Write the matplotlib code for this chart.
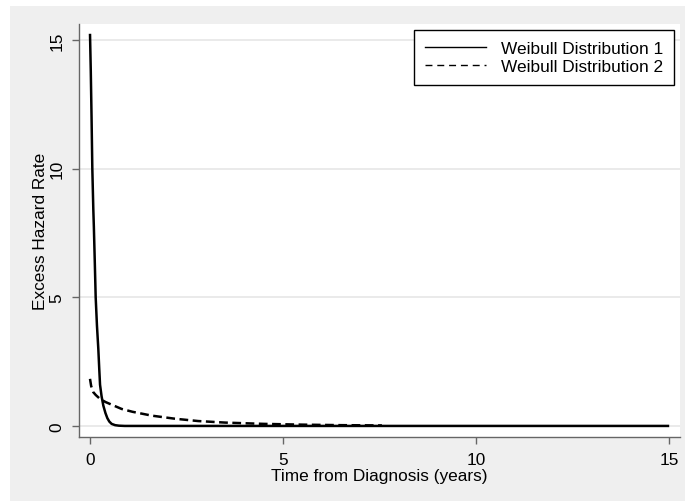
import matplotlib
matplotlib.use("Agg")
import matplotlib.pyplot as plt
from matplotlib.patches import Rectangle
from matplotlib.lines import Line2D

# hazard curves
t1 = [0.0, 0.02, 0.04, 0.06, 0.086, 0.10, 0.125, 0.147, 0.18, 0.215, 0.24, 0.26,
      0.30, 0.345, 0.40, 0.45, 0.50, 0.56, 0.65, 0.75, 0.9, 1.2, 15.0]
h1 = [15.24, 13.8, 12.0, 10.0, 8.4, 7.73, 6.3, 5.0, 3.9, 3.0, 2.2, 1.6,
      1.15, 0.79, 0.5, 0.3, 0.17, 0.08, 0.03, 0.01, 0.0, 0.0, 0.0]

t2 = [0.0, 0.03, 0.086, 0.15, 0.26, 0.4, 0.6, 0.82, 1.1, 1.6, 2.2, 2.8,
      3.5, 4.5, 5.5, 6.5, 7.56]
h2 = [1.83, 1.55, 1.31, 1.2, 1.05, 0.93, 0.8, 0.66, 0.55, 0.4, 0.28, 0.19,
      0.13, 0.08, 0.05, 0.03, 0.02]

labels = ["Weibull Distribution 1", "Weibull Distribution 2"]
xticks = [0, 5, 10, 15]
yticks = [0, 5, 10, 15]

plt.rcParams['font.family'] = ['Liberation Sans', 'DejaVu Sans']
fs = 12.4
W, H = 685, 502

fig = plt.figure(figsize=(W / 100, H / 100), dpi=100, facecolor='white')
fig.patches.append(Rectangle((10 / W, 0), 1, (H - 7) / H, transform=fig.transFigure,
                             facecolor='#efefef', edgecolor='none', zorder=-5))

ax = fig.add_axes([79 / W, (H - 438) / H, (680 - 79) / W, (438 - 25) / H])
ax.set_facecolor('white')

ax.plot(t1, h1, color='black', lw=1.8, solid_capstyle='butt', zorder=3)
ax.plot(t2, h2, color='black', lw=1.8, dashes=(3.5, 1.8), zorder=3)

ax.set_xlim(-0.285, 15.28)
ax.set_ylim(-0.43, 15.62)
ax.set_xticks(xticks)
ax.set_yticks(yticks)

ax.grid(axis='y', color='#e6e6e6', lw=1.2, zorder=0)
ax.grid(axis='x', visible=False)
ax.set_axisbelow(True)

for s in ['top', 'right']:
    ax.spines[s].set_visible(False)
for s in ['left', 'bottom']:
    ax.spines[s].set_color('#666666')
    ax.spines[s].set_linewidth(1.0)

ax.tick_params(axis='both', direction='out', length=5, width=1, color='#666666',
               labelsize=fs, labelcolor='black')
ax.tick_params(axis='x', pad=5.5)
ax.tick_params(axis='y', pad=5.5, labelrotation=90)
for lab in ax.get_yticklabels():
    lab.set_va('center')

ax.set_xlabel("Time from Diagnosis (years)", fontsize=fs, labelpad=1)
ax.set_ylabel("Excess Hazard Rate", fontsize=fs, labelpad=1)

handles = [Line2D([], [], color='black', lw=1.0),
           Line2D([], [], color='black', lw=1.0, dashes=(5, 3.5))]
leg = ax.legend(handles, labels, loc='upper right', fontsize=fs,
                bbox_to_anchor=(674 / W, 1 - 31 / H), bbox_transform=fig.transFigure,
                borderaxespad=0, frameon=True, fancybox=False, shadow=False,
                handlelength=3.5, handletextpad=0.87, labelspacing=0.15,
                borderpad=0.65)
leg.get_frame().set_edgecolor('black')
leg.get_frame().set_linewidth(1.0)
leg.get_frame().set_facecolor('white')
leg.get_frame().set_alpha(1)

fig.savefig("out.png", dpi=100, facecolor=fig.get_facecolor())
